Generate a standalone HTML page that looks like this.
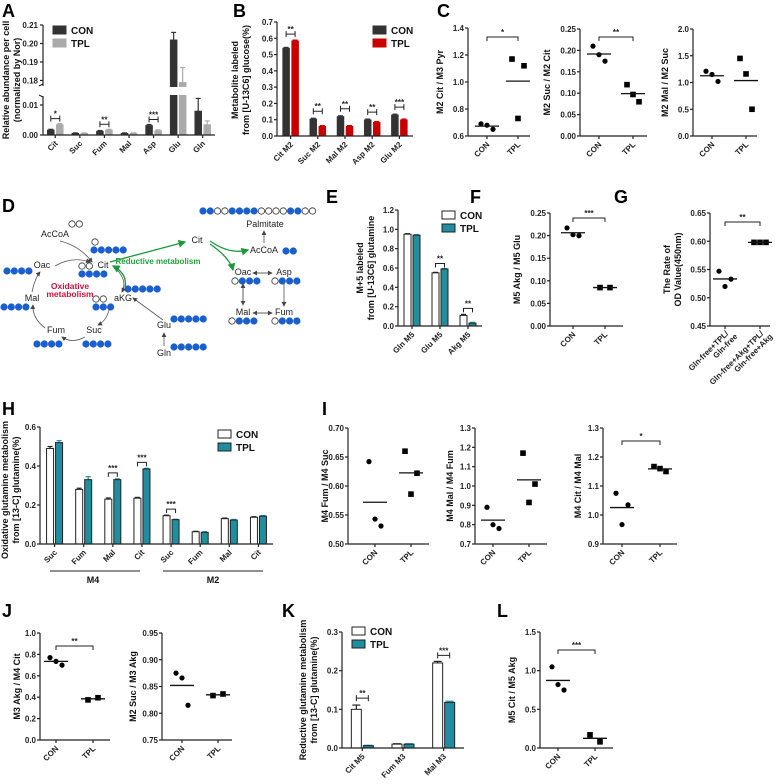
<!DOCTYPE html>
<html><head><meta charset="utf-8"><style>
html,body{margin:0;padding:0;background:#fff;}
svg{display:block;font-family:"Liberation Sans",Arial,sans-serif;}
.tk{font-size:8px;font-weight:bold;fill:#222;}
.lab{font-size:9px;font-weight:bold;fill:#111;}
.let{font-size:18px;font-weight:bold;fill:#000;}
.dg{font-size:9px;fill:#222;}
</style></head><body>
<svg id="fig" width="778" height="784" viewBox="0 0 778 784" xmlns="http://www.w3.org/2000/svg">
<defs>
<marker id="ah" markerWidth="6" markerHeight="6" refX="5" refY="3" orient="auto"><path d="M0,0 L6,3 L0,6 z" fill="#444"/></marker>
<marker id="ahg" markerWidth="6" markerHeight="6" refX="5" refY="3" orient="auto"><path d="M0,0 L6,3 L0,6 z" fill="#1a9a3a"/></marker>
</defs>
</svg>
<script>
// ---------- DATA ----------
const aCats=["Cit","Suc","Fum","Mal","Asp","Glu","Gln"];
const aCon=[0.0017,0.0006,0.0013,0.0006,0.0032,0.202,0.008];
const aTpl=[0.0035,0.0006,0.0017,0.0006,0.0015,0.179,0.0035];
const aConErr=[0.0002,0.0001,0.0002,0.0001,0.0003,0.004,0.0042];
const aTplErr=[0.0003,0.0001,0.0002,0.0001,0.0002,0.008,0.0012];
const aTicksLow=[0,0.01];const aTicksHigh=[0.18,0.19,0.20,0.21];

const bCats=["Cit M2","Suc M2","Mal M2","Asp M2","Glu M2"];
const bCon=[0.54,0.105,0.12,0.10,0.13];
const bTpl=[0.585,0.06,0.06,0.085,0.10];
const bTicks=[0,0.1,0.2,0.3,0.4,0.5,0.6,0.7];

const c1Con=[0.69,0.65,0.68];const c1Tpl=[1.17,1.12,0.73];
const c2Con=[0.21,0.175,0.19];const c2Tpl=[0.12,0.08,0.097];
const c3Con=[1.21,1.02,1.15];const c3Tpl=[1.45,0.5,1.16];

const eCats=["Gln M5","Glu M5","Akg M5"];
const eCon=[0.95,0.55,0.11];const eTpl=[0.94,0.59,0.03];
const eTicks=[0,0.2,0.4,0.6,0.8,1.0,1.2];

const fCon=[0.217,0.20,0.202];const fTpl=[0.085,0.085];
const gA=[0.547,0.533,0.52];const gB=[0.598,0.598,0.598];

const hCats=["Suc","Fum","Mal","Cit","Suc","Fum","Mal","Cit"];
const hCon=[0.49,0.28,0.23,0.235,0.145,0.063,0.13,0.137];
const hTpl=[0.52,0.33,0.33,0.385,0.125,0.06,0.123,0.143];
const hConErr=[0.01,0.006,0.006,0.004,0.003,0.002,0.003,0.003];
const hTplErr=[0.01,0.015,0.004,0.003,0.002,0.003,0.003,0.003];
const hTicks=[0,0.2,0.4,0.6];

const i1Con=[0.642,0.531,0.543];const i1Tpl=[0.66,0.622,0.586];
const i2Con=[0.89,0.78,0.80];const i2Tpl=[1.17,1.01,0.915];
const i3Con=[1.075,1.035,0.967];const i3Tpl=[1.167,1.15,1.16];

const j1Con=[0.77,0.70,0.735];const j1Tpl=[0.375,0.395];
const j2Con=[0.875,0.815,0.866];const j2Tpl=[0.833,0.836];

const kCats=["Cit M5","Fum M3","Mal M3"];
const kCon=[0.10,0.01,0.22];const kTpl=[0.006,0.01,0.118];
const kConErr=[0.011,0.001,0.004];const kTplErr=[0.001,0.001,0.003];
const kTicks=[0,0.1,0.2,0.3];

const lCon=[1.05,0.75,0.82];const lTpl=[0.17,0.08];

// ---------- HELPERS ----------
const NS="http://www.w3.org/2000/svg";
const svg=document.getElementById('fig');
function mk(tag,a,p){const e=document.createElementNS(NS,tag);for(const k in a)e.setAttribute(k,a[k]);(p||svg).appendChild(e);return e;}
function tx(x,y,s,a,p){const e=mk('text',Object.assign({x:x,y:y},a||{}),p);e.textContent=s;return e;}
function fmt(v,d){return v.toFixed(d);}
function mean(a){return a.reduce((s,v)=>s+v,0)/a.length;}

function letter(x,y,s){const t=tx(x,y,s,{class:'let'});

}

function yAxis(g,x,yT,yB,ticks,sc,dec){
 const l=mk('line',{x1:x,y1:yT,x2:x,y2:yB,stroke:'#222','stroke-width':1.2},g);
 
 
 ticks.forEach(v=>{const y=sc(v);
  mk('line',{x1:x-3,y1:y,x2:x,y2:y,stroke:'#222','stroke-width':1.2},g);
  const t=tx(x-4,y+3,fmt(v,dec),{class:'tk','text-anchor':'end'},g);
  
  });
}
function yTitle(g,x,yc,lines){
 lines.forEach((s,i)=>{const t=tx(0,0,s,{class:'lab','text-anchor':'middle',transform:`translate(${x+i*11},${yc}) rotate(-90)`},g);
 
 });
}
function xLabel(g,x,y,s){const t=tx(0,0,s,{class:'tk','text-anchor':'end',transform:`translate(${x+3},${y+7}) rotate(-45)`},g);
 
 }
function bracket(g,x1,x2,y,stars,up){
 const d=up?`M${x1},${y+4}L${x1},${y}L${x2},${y}L${x2},${y+4}`:`M${x1},${y-3}L${x1},${y+3}M${x1},${y}L${x2},${y}M${x2},${y-3}L${x2},${y+3}`;
 const p=mk('path',{d:d,fill:'none',stroke:'#222','stroke-width':1},g);
 
 
 const t=tx((x1+x2)/2,y-2,stars,{class:'tk','text-anchor':'middle','font-size':'8'},g);
 
 
}
function legend(g,x,y,c1,c2,s1,s2,open){
 [[c1,s1],[c2,s2]].forEach((c,i)=>{
  const r=mk('rect',{x:x,y:y+i*13-4,width:13,height:8,fill:c[0],stroke:open?'#222':c[0],'stroke-width':1},g);
  
  
  const t=tx(x+18,y+i*13+4,c[1],{'font-size':'10','font-weight':'bold',fill:'#111'},g);
  
  });
}

function barChart(o){
 const g=mk('g',{});
 
 
 const sc=o.sc||(v=>o.yB-(v-o.min)/(o.max-o.min)*(o.yB-o.yT));
 const n=o.cats.length,step=(o.x1-o.x0)/n;
 const cx=i=>o.x0+(i+0.5)*step+(o.shift||0);
 o.cats.forEach((c,i)=>{
  [[o.con,o.conErr,o.c1,-1,'con'],[o.tpl,o.tplErr,o.c2,1,'tpl']].forEach(s=>{
   const v=s[0][i];const bx=cx(i)+(s[3]<0?-o.bw-1:1);
   const y=sc(v);
   if(s[1]){const ye=sc(v+s[1][i]);
    mk('line',{x1:bx+o.bw/2,y1:y,x2:bx+o.bw/2,y2:ye,stroke:s[2]==='#fff'?'#222':s[2],'stroke-width':1.2},g);
    mk('line',{x1:bx+1,y1:ye,x2:bx+o.bw-1,y2:ye,stroke:s[2]==='#fff'?'#222':s[2],'stroke-width':1.2},g);}
   const r=mk('rect',{x:bx,y:y,width:o.bw,height:Math.max(0.5,o.yB-y),fill:s[2],stroke:o.open?'#222':s[2],'stroke-width':o.open?1:0.5},g);
   
   
  });
  mk('line',{x1:cx(i),y1:o.yB,x2:cx(i),y2:o.yB+3,stroke:'#222','stroke-width':1.2},g);
  xLabel(g,cx(i),o.yB+2,c);
 });
 const xa=mk('line',{x1:o.x0,y1:o.yB,x2:o.x1,y2:o.yB,stroke:'#222','stroke-width':1.2},g);
 
 
 if(!o.noY)yAxis(g,o.x0,o.yT,o.yB,o.ticks,sc,o.dec);
 (o.sig||[]).forEach(s=>{const i=s[0];const top=Math.min(sc(o.con[i]+(o.conErr?o.conErr[i]:0)),sc(o.tpl[i]+(o.tplErr?o.tplErr[i]:0)));
  bracket(g,cx(i)-o.bw/2-1,cx(i)+o.bw/2+1,top-(s[2]||6),s[1],o.up);});
 return {g:g,sc:sc,cx:cx};
}

function scatter(o){
 const g=mk('g',{});
 
 
 const sc=v=>o.yB-(v-o.min)/(o.max-o.min)*(o.yB-o.yT);
 const JIT=[-6,6,0];
 const xs=[o.xa,o.xb];
 yAxis(g,o.x0,o.yT,o.yB,o.ticks,sc,o.dec);
 const xa=mk('line',{x1:o.x0,y1:o.yB,x2:o.x1,y2:o.yB,stroke:'#222','stroke-width':1.2},g);
 
 
 [o.a,o.b].forEach((arr,k)=>{
  const x=xs[k];
  arr.forEach((v,i)=>{const px=x+(arr.length===2?(i?5:-5):JIT[i]);const py=sc(v);
   let m;
   if(k===0)m=mk('circle',{cx:px,cy:py,r:2.6,fill:'#000'},g);
   else m=mk('rect',{x:px-2.8,y:py-2.8,width:5.6,height:5.6,fill:'#000'},g);
   
   });
  const ml=mk('line',{x1:x-12,y1:sc(mean(arr)),x2:x+12,y2:sc(mean(arr)),stroke:'#111','stroke-width':1.3},g);
  
  
  mk('line',{x1:x,y1:o.yB,x2:x,y2:o.yB+3,stroke:'#222','stroke-width':1.2},g);
  if(o.labs){o.labs[k].forEach((s,j)=>{const t=tx(0,0,s,{class:'tk','text-anchor':'end',transform:`translate(${x+4+j*9},${o.yB+8+j*3}) rotate(-45)`},g);
   
   });}
  else xLabel(g,x,o.yB+2,k?'TPL':'CON');
 });
 yTitle(g,o.x0-(o.tw||30),(o.yT+o.yB)/2,o.title);
 if(o.sig)bracket(g,o.xa,o.xb,o.sigY||o.yT+5,o.sig,true);
 return g;
}

// ---------- PANEL A ----------
letter(2,17,'A');
(function(){
 const lowB=135,lowT=96,upB=86,upT=25;
 const sc=v=>v<=0.013?lowB-(v/0.013)*(lowB-lowT):(v<0.177?lowT-(v-0.013)/(0.164)*(lowT-upB):upB-(v-0.177)/(0.033)*(upB-upT));
 const r=barChart({name:'panel-a-chart',cats:aCats,con:aCon,tpl:aTpl,conErr:aConErr,tplErr:aTplErr,x0:43,x1:215,yT:25,yB:135,sc:sc,bw:7,c1:'#333',c2:'#aaa',noY:true,sig:[[0,'*',5],[2,'**',5],[4,'***',5]]});
 const g=r.g;
 mk('rect',{x:38,y:87,width:180,height:8,fill:'#fff'},g);
 mk('line',{x1:43,y1:lowB,x2:43,y2:lowT,stroke:'#222','stroke-width':1.2},g);
 mk('line',{x1:43,y1:upB,x2:43,y2:upT,stroke:'#222','stroke-width':1.2},g);
 mk('line',{x1:39,y1:95,x2:43,y2:97,stroke:'#222'},g);mk('line',{x1:39,y1:86,x2:43,y2:84,stroke:'#222'},g);
 aTicksLow.concat(aTicksHigh).forEach(v=>{const y=sc(v);mk('line',{x1:40,y1:y,x2:43,y2:y,stroke:'#222','stroke-width':1.2},g);
  const t=tx(38,y+3,fmt(v,2),{class:'tk','text-anchor':'end'},g);
  
  });
 yTitle(g,9,80,['Relative abundance per cell','(normalized by Nor)']);
 legend(g,53,30,'#333','#aaa','CON','TPL');
})();

// ---------- PANEL B ----------
letter(233,17,'B');
(function(){const r=barChart({name:'panel-b-chart',cats:bCats,con:bCon,tpl:bTpl,conErr:bCon.map(v=>0.004),tplErr:bTpl.map(v=>0.004),x0:277,x1:413,yT:22,yB:136,min:0,max:0.7,ticks:bTicks,dec:1,bw:7,c1:'#333',c2:'#c80000',sig:[[0,'**',6],[1,'**',7],[2,'**',7],[3,'**',7],[4,'***',7]]});
 yTitle(r.g,238,80,['Metabolite labeled','from [U-13C6] glucose(%)']);
 legend(r.g,373,30,'#333','#c80000','CON','TPL');})();

// ---------- PANEL C ----------
letter(437,17,'C');
scatter({name:'panel-c1-chart',x0:468,x1:530,yT:28,yB:136,min:0.6,max:1.4,ticks:[0.6,0.8,1.0,1.2,1.4],dec:1,xa:487,xb:518,a:c1Con,b:c1Tpl,title:['M2 Cit / M3 Pyr'],tw:25,sig:'*',sigY:37});
scatter({name:'panel-c2-chart',x0:580,x1:647,yT:29,yB:136,min:0,max:0.25,ticks:[0,0.05,0.10,0.15,0.20,0.25],dec:2,xa:599,xb:633,a:c2Con,b:c2Tpl,title:['M2 Suc / M2 Cit'],tw:30,sig:'**',sigY:37});
scatter({name:'panel-c3-chart',x0:693,x1:757,yT:29,yB:136,min:0,max:2.0,ticks:[0,0.5,1.0,1.5,2.0],dec:1,xa:712,xb:746,a:c3Con,b:c3Tpl,title:['M2 Mal / M2 Suc'],tw:25});

// ---------- PANEL D (diagram) ----------
letter(2,212,'D');
(function(){
 const g=mk('g',{});
 
 
 function row(x,y,pat){for(let i=0;i<pat.length;i++){const f=pat[i]==='1';const c=mk('circle',{cx:x+i*7.3,cy:y,r:3.2,fill:f?'#1a5fd0':'#fff',stroke:f?'#1a5fd0':'#333','stroke-width':0.8},g);
  
  }}
 const labels=[[55,237,'AcCoA'],[103,268,'Cit'],[42,268,'Oac'],[32,301,'Mal'],[56,333,'Fum'],[94,333,'Suc'],[123,301,'aKG'],[164,328,'Glu'],[164,356,'Gln'],[197,243,'Cit'],[265,227,'Palmitate'],[264,253,'AcCoA'],[243,275,'Oac'],[284,275,'Asp'],[243,315,'Mal'],[284,315,'Fum']];
 labels.forEach(l=>{const t=tx(l[0],l[1],l[2],{class:'dg','text-anchor':'middle'},g);
  
  });
 const r1=tx(158,264,'Reductive metabolism',{'font-size':'8','font-weight':'bold',fill:'#22a040','text-anchor':'middle'},g);
 
 
 const o1=tx(70,289,'Oxidative',{'font-size':'8.5','font-weight':'bold',fill:'#d0103a','text-anchor':'middle'},g);
 
 
 const o2=tx(70,297,'metabolism',{'font-size':'8.5','font-weight':'bold',fill:'#d0103a','text-anchor':'middle'},g);
 
 
 row(72,224,'00');row(95,242,'0');row(94,250,'11111');row(82,266,'00');row(82,274,'1111');
 row(7,271,'1111');row(4,307,'1111');row(96,299,'00');row(96,307,'111');row(128,289,'11111');
 row(37,344,'1111');row(86,344,'1111');row(174,319,'11111');row(174,347,'11111');
 row(203,211,'1100111100001100');row(286,251,'11');row(235,281,'0111');row(275,281,'0111');row(232,321,'0111');row(275,321,'0111');
 const A=(d,m,c)=>{const p=mk('path',{d:d,fill:'none',stroke:c||'#555','stroke-width':c?1.3:0.8,'marker-end':`url(#${m||'ah'})`},g);
  
  };
 A('M60,241 Q80,246 92,262');A('M55,266 Q72,256 90,262');A('M115,268 Q128,280 122,292');A('M110,305 Q108,320 98,325');
 A('M85,337 Q72,344 62,337');A('M45,328 Q32,318 33,305');A('M32,292 Q35,278 40,272');
 A('M163,320 L133,298');A('M164,346 L164,333');
 A('M110,262 L185,242','ahg','#1a9a3a');A('M125,288 Q128,274 113,266','ahg','#1a9a3a');
 A('M210,241 Q230,255 248,250','ahg','#1a9a3a');A('M210,244 Q230,258 233,270','ahg','#1a9a3a');
 A('M264,243 L264,231');A('M253,273 L272,273');A('M272,273 L253,273');A('M284,283 L284,306');
 A('M243,283 L243,305');A('M243,305 L243,284');A('M272,313 L253,313');A('M253,313 L272,313');
})();

// ---------- PANEL E ----------
letter(326,203,'E');
(function(){const r=barChart({name:'panel-e-chart',cats:eCats,con:eCon,tpl:eTpl,conErr:[0.005,0.005,0.01],tplErr:[0.005,0.005,0.008],x0:398,x1:482,yT:210,yB:326,min:0,max:1.2,ticks:eTicks,dec:1,bw:7,c1:'#fff',c2:'#1f8fa0',open:true,up:true,sig:[[1,'**',5],[2,'**',6]]});
 yTitle(r.g,363,268,['M+5 labeled','from [U-13C6] glutamine']);
 legend(r.g,442,215,'#fff','#1f8fa0','CON','TPL',true);})();

// ---------- PANEL F ----------
letter(470,203,'F');
scatter({name:'panel-f-chart',x0:550,x1:623,yT:213,yB:326,min:0,max:0.25,ticks:[0,0.05,0.10,0.15,0.20,0.25],dec:2,xa:573,xb:605,a:fCon,b:fTpl,title:['M5 Akg / M5 Glu'],tw:30,sig:'***',sigY:218});

// ---------- PANEL G ----------
letter(614,203,'G');
scatter({name:'panel-g-chart',x0:710,x1:770,yT:213,yB:326,min:0.45,max:0.65,ticks:[0.45,0.50,0.55,0.60,0.65],dec:2,xa:725,xb:760,a:gA,b:gB,title:['The Rate of','OD Value(450nm)'],tw:40,sig:'**',sigY:222,labs:[['Gln-free+TPL/','Gln-free'],['Gln-free+Akg+TPL/','Gln-free+Akg']]});

// ---------- PANEL H ----------
letter(2,415,'H');
(function(){const r=barChart({name:'panel-h-chart',cats:hCats,con:hCon,tpl:hTpl,conErr:hConErr,tplErr:hTplErr,x0:40,x1:273,yT:427,yB:544,min:0,max:0.6,ticks:hTicks,dec:1,bw:7,c1:'#fff',c2:'#1f8fa0',open:true,up:true,sig:[[2,'***',6],[3,'***',6],[4,'***',6]]});
 yTitle(r.g,8,490,['Oxidative glutamine metabolism','from [13-C] glutamine(%)']);
 legend(r.g,218,434,'#fff','#1f8fa0','CON','TPL',true);
 const g=r.g;
 const u1=mk('line',{x1:50,y1:571,x2:140,y2:571,stroke:'#222','stroke-width':1},g);
 
 
 const u2=mk('line',{x1:163,y1:571,x2:263,y2:571,stroke:'#222','stroke-width':1},g);
 
 
 const m4=tx(93,583,'M4',{class:'lab','text-anchor':'middle'},g);
 
 
 const m2=tx(213,583,'M2',{class:'lab','text-anchor':'middle'},g);
 
 })();

// ---------- PANEL I ----------
letter(322,415,'I');
scatter({name:'panel-i1-chart',x0:348,x1:429,yT:428,yB:544,min:0.5,max:0.7,ticks:[0.50,0.55,0.60,0.65,0.70],dec:2,xa:375,xb:411,a:i1Con,b:i1Tpl,title:['M4 Fum / M4 Suc'],tw:20});
scatter({name:'panel-i2-chart',x0:475,x1:547,yT:428,yB:544,min:0.7,max:1.3,ticks:[0.7,0.8,0.9,1.0,1.1,1.2,1.3],dec:1,xa:493,xb:529,a:i2Con,b:i2Tpl,title:['M4 Mal / M4 Fum'],tw:22});
scatter({name:'panel-i3-chart',x0:603,x1:677,yT:428,yB:544,min:0.9,max:1.3,ticks:[0.9,1.0,1.1,1.2,1.3],dec:1,xa:622,xb:660,a:i3Con,b:i3Tpl,title:['M4 Cit / M4 Mal'],tw:22,sig:'*',sigY:441});

// ---------- PANEL J ----------
letter(2,617,'J');
scatter({name:'panel-j1-chart',x0:40,x1:110,yT:633,yB:740,min:0,max:1.0,ticks:[0,0.2,0.4,0.6,0.8,1.0],dec:1,xa:56,xb:93,a:j1Con,b:j1Tpl,title:['M3 Akg / M4 Cit'],tw:20,sig:'**',sigY:646});
scatter({name:'panel-j2-chart',x0:162,x1:232,yT:633,yB:740,min:0.75,max:0.95,ticks:[0.75,0.80,0.85,0.90,0.95],dec:2,xa:182,xb:218,a:j2Con,b:j2Tpl,title:['M2 Suc / M3 Akg'],tw:26});

// ---------- PANEL K ----------
letter(282,617,'K');
(function(){const r=barChart({name:'panel-k-chart',cats:kCats,con:kCon,tpl:kTpl,conErr:kConErr,tplErr:kTplErr,x0:342,x1:464,yT:632,yB:748,min:0,max:0.3,ticks:kTicks,dec:1,bw:10,c1:'#fff',c2:'#1f8fa0',open:true,sig:[[0,'**',7],[2,'***',6]]});
 yTitle(r.g,306,690,['Reductive glutamine metabolism','from [13-C] glutamine(%)']);
 legend(r.g,352,631,'#fff','#1f8fa0','CON','TPL',true);})();

// ---------- PANEL L ----------
letter(497,617,'L');
scatter({name:'panel-l-chart',x0:540,x1:613,yT:632,yB:748,min:0,max:1.5,ticks:[0,0.5,1.0,1.5],dec:1,xa:558,xb:595,a:lCon,b:lTpl,title:['M5 Cit / M5 Akg'],tw:25,sig:'***',sigY:650});
</script>
</body></html>
